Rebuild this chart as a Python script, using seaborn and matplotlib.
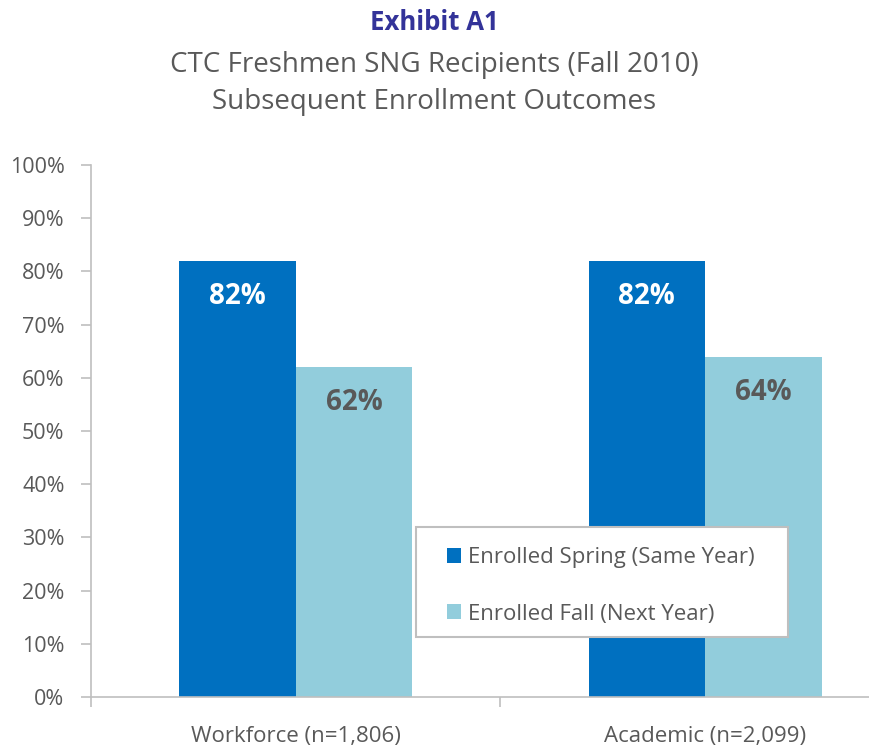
import matplotlib
matplotlib.use("Agg")
import matplotlib.pyplot as plt
import seaborn as sns
import pandas as pd
from matplotlib.patches import Rectangle
from matplotlib.ticker import PercentFormatter, FixedLocator

# ----------- Data -----------
categories = ["Workforce (n=1,806)", "Academic (n=2,099)"]
series_names = ["Enrolled Spring (Same Year)", "Enrolled Fall (Next Year)"]
spring_values = [82, 82]
fall_values = [62, 64]

df = pd.DataFrame({
    "category": categories * 2,
    "series": [series_names[0]] * 2 + [series_names[1]] * 2,
    "value": spring_values + fall_values,
})

# ----------- Style -----------
sns.set_style("white")
plt.rcParams["font.family"] = ["Open Sans", "DejaVu Sans"]
text_gray = "#595959"
axis_gray = "#BFBFBF"
palette = {series_names[0]: "#0070C0", series_names[1]: "#92CDDC"}

fig = plt.figure(figsize=(8.69, 7.47), dpi=100)
ax = fig.add_axes([91 / 869, 50 / 747, 1 - 91 / 869, 532 / 747])

sns.barplot(data=df, x="category", y="value", hue="series", palette=palette,
            order=categories, hue_order=series_names, width=0.57,
            saturation=1, linewidth=0, ax=ax, legend=True)

# ----------- Bar labels -----------
label_colors = ["white", text_gray]
for container, col in zip(ax.containers, label_colors):
    ax.bar_label(container, labels=[f"{v:.0f}%" for v in container.datavalues],
                 padding=-36, color=col, fontsize=20, fontweight="bold")

# ----------- Axes -----------
ax.set_ylim(0, 100)
ax.set_xlim(-0.5, 1.4)
ax.yaxis.set_major_locator(FixedLocator(range(0, 101, 10)))
ax.yaxis.set_major_formatter(PercentFormatter(decimals=0))
ax.set_xlabel("")
ax.set_ylabel("")

ax.xaxis.set_minor_locator(FixedLocator([-0.5, 0.5, 1.5]))
ax.tick_params(axis="x", which="major", bottom=False, length=0, pad=21,
               labelsize=16, labelcolor=text_gray)
ax.tick_params(axis="x", which="minor", bottom=True, length=7, width=1.2,
               color=axis_gray, direction="out")
ax.tick_params(axis="y", left=True, length=7, width=1.2, color=axis_gray,
               direction="out", pad=12, labelsize=15.5, labelcolor=text_gray)

for side in ["top", "right"]:
    ax.spines[side].set_visible(False)
for side in ["left", "bottom"]:
    ax.spines[side].set_color(axis_gray)
    ax.spines[side].set_linewidth(1.2)

# ----------- Legend (box drawn separately so entries can sit inset) -----------
ax.add_patch(Rectangle((0.418, 0.113), 0.478, 0.207, transform=ax.transAxes,
                       facecolor="white", edgecolor=axis_gray, linewidth=1.5,
                       zorder=4, clip_on=False))
leg = ax.legend(loc="upper left", bbox_to_anchor=(0.4576, 0.282),
                frameon=False, fontsize=16, handlelength=0.65,
                handleheight=0.65, handletextpad=0.3, labelspacing=1.6,
                borderpad=0, borderaxespad=0)
leg.set_zorder(6)
for t in leg.get_texts():
    t.set_color(text_gray)

# ----------- Titles -----------
fig.text(0.5, 0.970, "Exhibit A1", ha="center", va="center", fontsize=18.5,
         fontweight="bold", color="#333399")
fig.text(0.5, 0.913, "CTC Freshmen SNG Recipients (Fall 2010)", ha="center",
         va="center", fontsize=20, color=text_gray)
fig.text(0.5, 0.863, "Subsequent Enrollment Outcomes", ha="center",
         va="center", fontsize=20, color=text_gray)

fig.savefig("out.png", dpi=100)
